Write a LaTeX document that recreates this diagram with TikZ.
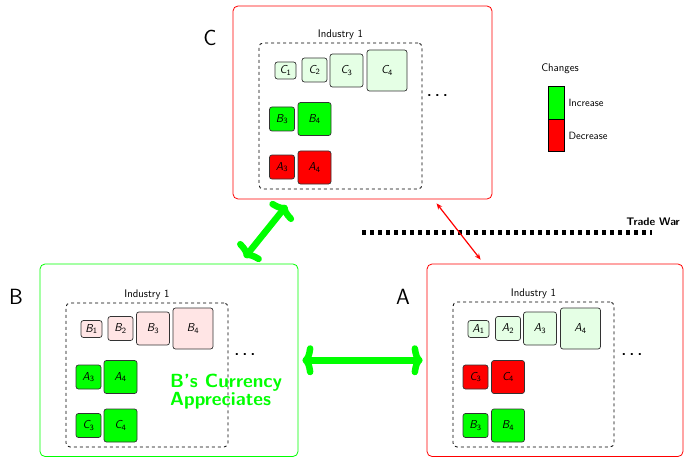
\documentclass[tikz,border=0pt]{standalone}
\usetikzlibrary{arrows.meta,calc}
\renewcommand{\familydefault}{\sfdefault}
% firm label: slanted letter with an upright index
\newcommand{\firm}[2]{{\itshape #1}\textsubscript{#2}}
% widely spaced ellipsis for "more firms"
\newcommand{\moredots}{.\kern3.4pt.\kern3.4pt.}
\begin{document}
\begin{tikzpicture}[x=1pt,y=-1pt,
  panel/.style={draw, line width=0.8pt, rounded corners=5pt},
  industry/.style={draw=black, dashed, line width=0.8pt, rounded corners=4pt},
  firmbox/.style={draw=black!80, line width=0.7pt, rounded corners=2.5pt, inner sep=0pt, font=\fontsize{11.5}{13}\selectfont},
  sz1/.style={firmbox, minimum width=21pt, minimum height=17pt},
  sz2/.style={firmbox, minimum width=25pt, minimum height=24pt},
  sz3/.style={firmbox, minimum width=33pt, minimum height=33pt},
  sz4/.style={firmbox, minimum width=40pt, minimum height=41pt},
  up/.style={fill=green},
  down/.style={fill=red},
  paleup/.style={fill=green!10},
  paledown/.style={fill=red!10},
  small/.style={font=\fontsize{11}{13}\selectfont, inner sep=1pt},
  legendtext/.style={font=\fontsize{10.5}{12}\selectfont, inner sep=1pt},
  country/.style={font=\fontsize{22}{26}\selectfont, inner sep=0pt},
  more/.style={font=\fontsize{15}{17}\bfseries\selectfont, inner sep=0pt},
  biglink/.style={green, line width=6.5pt, line cap=round,
    {Computer Modern Rightarrow[length=11pt, width=30pt, round]}-{Computer Modern Rightarrow[length=11pt, width=30pt, round]}},
  warlink/.style={red, line width=1.2pt, {Stealth[length=6pt, width=5pt]}-{Stealth[length=6pt, width=5pt]}}
]
\useasboundingbox (0,0) rectangle (684,457);

% ---------- country C ----------
\node[panel, red, minimum width=259pt, minimum height=193pt] (boxC) at (362.5,102.5) {};
\node[industry, minimum width=163pt, minimum height=146pt] (indC) at (340.5,116) {};
\node[small, anchor=south] (indClab) at ([yshift=2pt]indC.north) {Industry 1};
\node[sz1, paleup] (cC1) at (285.5,70.5) {\firm{C}{1}};
\node[sz2, paleup] (cC2) at (314.5,70) {\firm{C}{2}};
\node[sz3, paleup] (cC3) at (346.5,70.5) {\firm{C}{3}};
\node[sz4, paleup] (cC4) at (387,70.5) {\firm{C}{4}};
\node[sz2, up] (cB3) at (282,119) {\firm{B}{3}};
\node[sz3, up] (cB4) at (314.5,119) {\firm{B}{4}};
\node[sz2, down] (cA3) at (282,167) {\firm{A}{3}};
\node[sz3, down] (cA4) at (314.5,167.5) {\firm{A}{4}};
\node[more] (cdots) at (437.5,95.7) {\moredots};
\node[country] (labC) at (210,38) {C};

% ---------- country B ----------
\node[panel, green, minimum width=258pt, minimum height=192.5pt] (boxB) at (169,360.25) {};
\node[industry, minimum width=162pt, minimum height=144pt] (indB) at (147,375) {};
\node[small, anchor=south] (indBlab) at ([yshift=2pt]indB.north) {Industry 1};
\node[sz1, paledown] (bB1) at (91.5,329) {\firm{B}{1}};
\node[sz2, paledown] (bB2) at (120.5,328.5) {\firm{B}{2}};
\node[sz3, paledown] (bB3) at (153,328.5) {\firm{B}{3}};
\node[sz4, paledown] (bB4) at (193,328.5) {\firm{B}{4}};
\node[sz2, up] (bA3) at (88.5,377) {\firm{A}{3}};
\node[sz3, up] (bA4) at (120.5,377) {\firm{A}{4}};
\node[sz2, up] (bC3) at (88.5,425.5) {\firm{C}{3}};
\node[sz3, up] (bC4) at (120.5,425.5) {\firm{C}{4}};
\node[more] (bdots) at (245,355) {\moredots};
\node[country] (labB) at (16,297) {B};
\node[green, anchor=west, align=left, inner sep=0pt,
  font=\fontsize{19}{18}\bfseries\selectfont] (appr) at (170,392) {B's Currency\\Appreciates};

% ---------- country A ----------
\node[panel, red, minimum width=256pt, minimum height=192.5pt] (boxA) at (555,360.25) {};
\node[industry, minimum width=161pt, minimum height=145pt] (indA) at (533.5,374.5) {};
\node[small, anchor=south] (indAlab) at ([yshift=2pt]indA.north) {Industry 1};
\node[sz1, paleup] (aA1) at (478.5,329) {\firm{A}{1}};
\node[sz2, paleup] (aA2) at (508,328.5) {\firm{A}{2}};
\node[sz3, paleup] (aA3) at (540,328.5) {\firm{A}{3}};
\node[sz4, paleup] (aA4) at (580.5,328.5) {\firm{A}{4}};
\node[sz2, down] (aC3) at (475.5,377) {\firm{C}{3}};
\node[sz3, down] (aC4) at (508,377) {\firm{C}{4}};
\node[sz2, up] (aB3) at (475.5,425.5) {\firm{B}{3}};
\node[sz3, up] (aB4) at (508,425.5) {\firm{B}{4}};
\node[more] (adots) at (632,355) {\moredots};
\node[country] (labA) at (403,297) {A};

% ---------- legend ----------
\node[small] (chg) at (560,69) {Changes};
\node[draw=black, fill=green, line width=0.7pt, minimum width=16pt, minimum height=33pt, inner sep=0pt] (incbox) at (556,102.5) {};
\node[draw=black, fill=red, line width=0.7pt, minimum width=16pt, minimum height=32pt, inner sep=0pt, anchor=north] (decbox) at (incbox.south) {};
\node[legendtext, anchor=west] (inc) at ([xshift=3pt]incbox.east) {Increase};
\node[legendtext, anchor=west] (dec) at ([xshift=3pt]decbox.east) {Decrease};

% ---------- trade war barrier ----------
\coordinate (tw1) at (362,232);
\coordinate (tw2) at (652,232);
\draw[line width=5pt, dash pattern=on 4pt off 4pt] (tw1) -- (tw2);
\node[anchor=east, inner sep=0pt, font=\fontsize{11}{13}\bfseries\selectfont] (twlab) at (680,222) {Trade War};

% ---------- links between countries ----------
\draw[biglink] ([xshift=205pt, yshift=6pt]boxB.north west) -- ([xshift=54pt, yshift=-6pt]boxC.south west);
\draw[biglink, shorten <=4pt, shorten >=4pt] (boxB.east) -- (boxA.west);
\draw[warlink] ([xshift=204pt, yshift=-4pt]boxC.south west) -- ([xshift=54pt, yshift=4pt]boxA.north west);
\end{tikzpicture}
\end{document}
